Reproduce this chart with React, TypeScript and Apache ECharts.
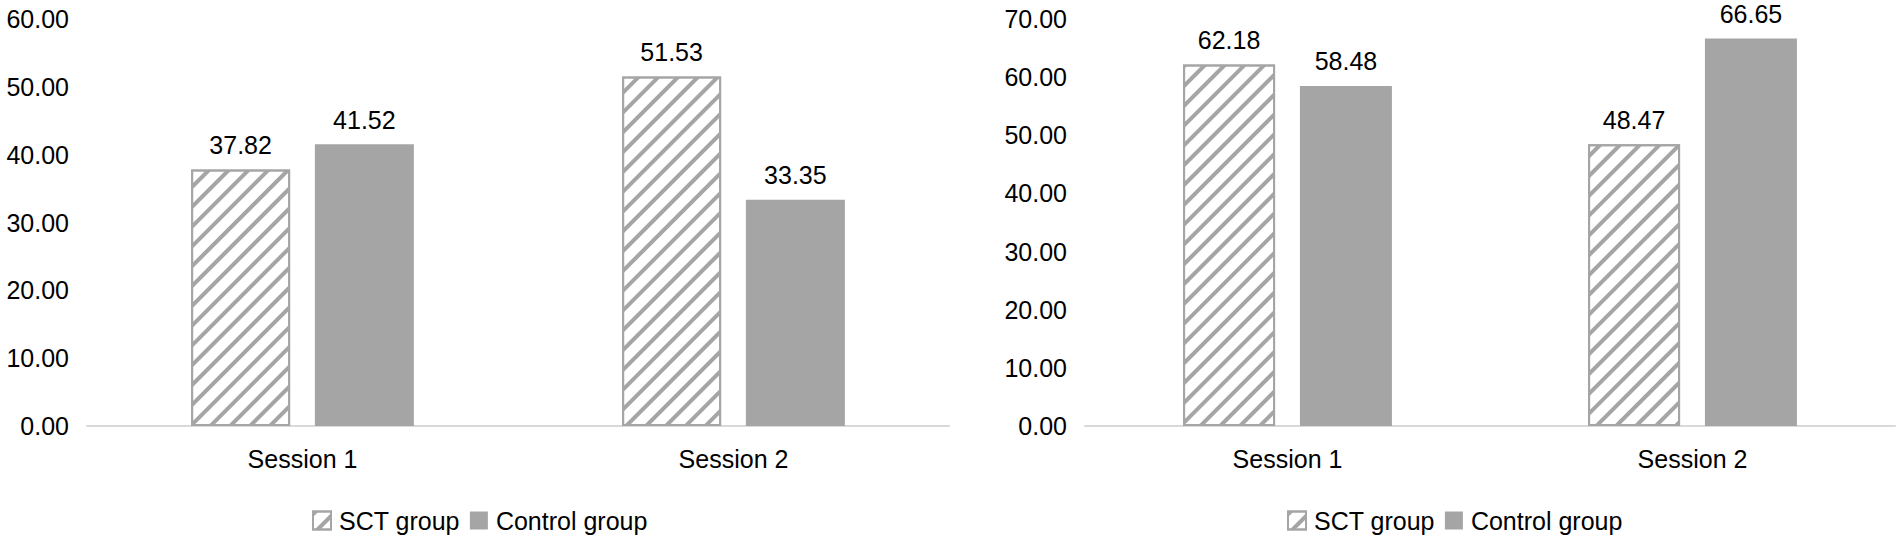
import React, { useEffect, useRef } from "react";
import * as echarts from "echarts";

const categories = ["Session 1", "Session 2"];
const leftSCT = [37.82, 51.53];
const leftControl = [41.52, 33.35];
const rightSCT = [62.18, 48.47];
const rightControl = [58.48, 66.65];
const leftTicks = { min: 0, max: 60, interval: 10 };
const rightTicks = { min: 0, max: 70, interval: 10 };

const FONT = "'Liberation Sans', Arial, sans-serif";
const GRAY = "#a5a5a5";

const hatch = {
  symbol: "rect",
  symbolSize: 1,
  color: GRAY,
  backgroundColor: "#ffffff",
  dashArrayX: [1, 0],
  dashArrayY: [3.5, 10],
  rotation: -Math.PI / 4,
};

export default function App() {
  const ref = useRef<HTMLDivElement>(null);
  useEffect(() => {
    if (!ref.current) return;
    const chart = echarts.init(ref.current, null, { renderer: "svg" });
    const label = {
      show: true,
      position: "top",
      distance: 12,
      fontSize: 25,
      fontFamily: FONT,
      color: "#000",
      formatter: (p: any) => Number(p.value).toFixed(2),
    };
    const sctStyle = {
      color: "#ffffff",
      borderColor: GRAY,
      borderWidth: 2,
      decal: hatch,
    };
    const ctlStyle = { color: GRAY };
    const xAxisBase = {
      type: "category",
      data: categories,
      axisLine: { lineStyle: { color: "#d9d9d9", width: 2 } },
      axisTick: { show: false },
      axisLabel: { fontSize: 25, fontFamily: FONT, color: "#000", margin: 20 },
    };
    const yAxisBase = {
      type: "value",
      splitLine: { show: false },
      axisLine: { show: false },
      axisTick: { show: false },
      axisLabel: {
        fontSize: 25,
        fontFamily: FONT,
        color: "#000",
        margin: 18,
        formatter: (v: number) => v.toFixed(2),
      },
    };
    const legendBase = {
      orient: "horizontal",
      icon: "rect",
      itemWidth: 18,
      itemHeight: 18,
      itemGap: 10,
      textStyle: { fontSize: 25, fontFamily: FONT, color: "#000", padding: [0, 0, 0, 3] },
      data: ["SCT group", "Control group"],
      selectedMode: false,
    };
    chart.setOption({
      animation: false,
      textStyle: { fontFamily: FONT },
      grid: [
        { left: 87, width: 862, top: 19, bottom: 113 },
        { left: 1085, width: 810, top: 19, bottom: 113 },
      ],
      xAxis: [
        { ...xAxisBase, gridIndex: 0 },
        { ...xAxisBase, gridIndex: 1 },
      ],
      yAxis: [
        { ...yAxisBase, gridIndex: 0, ...leftTicks },
        { ...yAxisBase, gridIndex: 1, ...rightTicks },
      ],
      legend: [
        { ...legendBase, left: 307, top: 503 },
        { ...legendBase, left: 1282, top: 503 },
      ],
      series: [
        {
          name: "SCT group",
          type: "bar",
          xAxisIndex: 0,
          yAxisIndex: 0,
          data: leftSCT,
          barWidth: 99,
          itemStyle: sctStyle,
          label,
        },
        {
          name: "Control group",
          type: "bar",
          xAxisIndex: 0,
          yAxisIndex: 0,
          data: leftControl,
          barWidth: 99,
          barGap: "25%",
          itemStyle: ctlStyle,
          label,
        },
        {
          name: "SCT group",
          type: "bar",
          xAxisIndex: 1,
          yAxisIndex: 1,
          data: rightSCT,
          barWidth: 92,
          itemStyle: sctStyle,
          label,
        },
        {
          name: "Control group",
          type: "bar",
          xAxisIndex: 1,
          yAxisIndex: 1,
          data: rightControl,
          barWidth: 92,
          barGap: "27%",
          itemStyle: ctlStyle,
          label,
        },
      ],
    });
    return () => chart.dispose();
  }, []);
  return (
    <div
      ref={ref}
      style={{ position: "fixed", left: 0, top: 0, width: 1900, height: 539, background: "#fff" }}
    />
  );
}
